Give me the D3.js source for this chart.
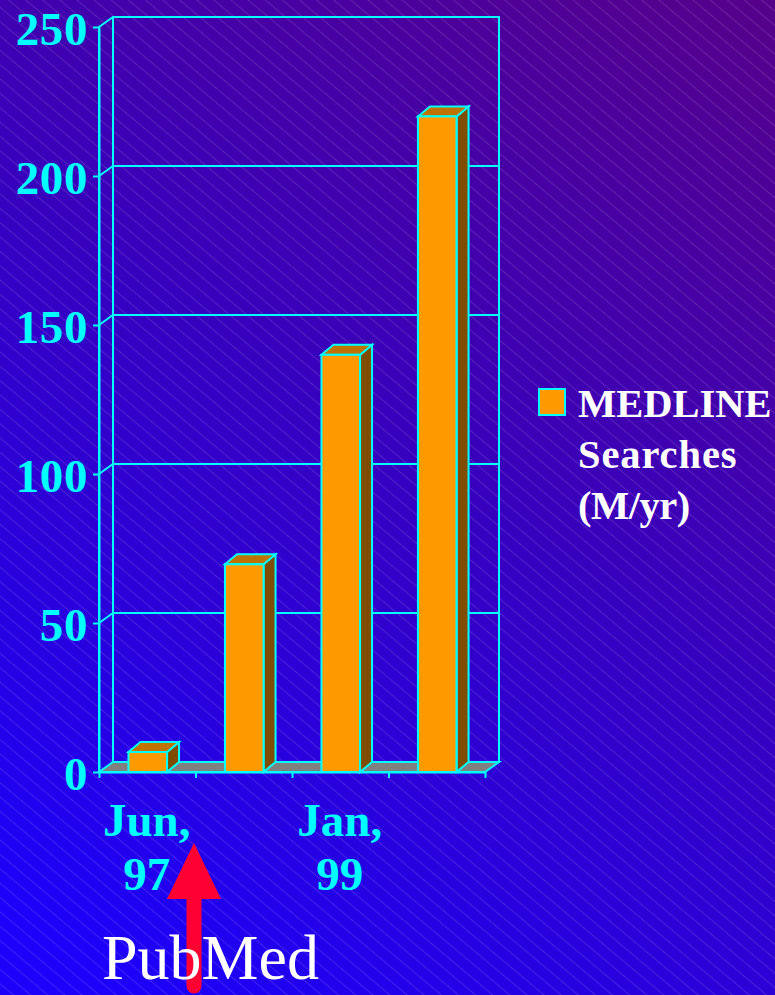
<!DOCTYPE html>
<html>
<head>
<meta charset="utf-8">
<script src="https://cdn.jsdelivr.net/npm/d3@7"></script>
<style>
  html, body { margin: 0; padding: 0; background: #2000f0; }
  svg { display: block; }
  text { font-family: "Liberation Serif", serif; }
  .tick-label { font-weight: bold; fill: #00ffff; }
  .legend-text { font-weight: bold; fill: #ffffff; font-size: 40.5px; }
</style>
</head>
<body>
<div id="chart"></div>
<script>
// Chart data (the 2nd and 4th bars have no label in the original)
const categoryLabels = [["Jun,", "97"], [], ["Jan,", "99"], []];
const searches = [6.7, 69.7, 140, 220];
const yTicks = [0, 50, 100, 150, 200, 250];
const legendLines = ["MEDLINE", "Searches", "(M/yr)"];

const width = 775, height = 995;
const cyan = "#00ffff", orange = "#ff9900", orangeTop = "#bf7300", orangeSide = "#7f4c00", floorGrey = "#808080";
const lineW = 2;

// 3D offset of the back wall
const depthX = 14, depthY = 10;
const barDepthX = 12, barDepthY = 10;

const svg = d3.select("#chart").append("svg")
    .attr("width", width)
    .attr("height", height);

const defs = svg.append("defs");

// Background gradient, blue at bottom left to purple at top right
const grad = defs.append("linearGradient")
    .attr("id", "bg")
    .attr("gradientUnits", "userSpaceOnUse")
    .attr("x1", 120).attr("y1", 995)
    .attr("x2", 775).attr("y2", 0);
grad.append("stop").attr("offset", "0%").attr("stop-color", "#1c00fa");
grad.append("stop").attr("offset", "50%").attr("stop-color", "#3600c0");
grad.append("stop").attr("offset", "100%").attr("stop-color", "#56008a");

// Thin diagonal hatch over the background
const hatch = defs.append("pattern")
    .attr("id", "hatch")
    .attr("patternUnits", "userSpaceOnUse")
    .attr("width", 11).attr("height", 11)
    .attr("patternTransform", "rotate(40)");
hatch.append("line")
    .attr("x1", 0).attr("y1", 5.5).attr("x2", 11).attr("y2", 5.5)
    .attr("stroke", "#ffffff")
    .attr("stroke-opacity", 0.14)
    .attr("stroke-width", 1);

svg.append("rect").attr("width", width).attr("height", height).attr("fill", "url(#bg)");
svg.append("rect").attr("width", width).attr("height", height).attr("fill", "url(#hatch)");

// Scales
const xScale = d3.scaleBand()
    .domain(d3.range(searches.length))
    .range([99.5, 485.5])
    .paddingInner(0.6)
    .paddingOuter(0.3);

const yScale = d3.scaleLinear()
    .domain([0, 250])
    .range([772, 27]);

const plotLeft = 99, plotRight = 485;
const plotBase = yScale(0), plotTop = yScale(250);

// Floor
svg.append("polygon")
    .attr("points", [[plotLeft, plotBase], [plotRight, plotBase], [plotRight + depthX, plotBase - depthY], [plotLeft + depthX, plotBase - depthY]].join(" "))
    .attr("fill", floorGrey)
    .attr("stroke", cyan)
    .attr("stroke-width", lineW);

// Back wall and side wall
svg.append("rect")
    .attr("x", plotLeft + depthX).attr("y", plotTop - depthY)
    .attr("width", plotRight - plotLeft).attr("height", plotBase - plotTop)
    .attr("fill", "none")
    .attr("stroke", cyan)
    .attr("stroke-width", lineW);

svg.append("polyline")
    .attr("points", [[plotLeft, plotBase], [plotLeft, plotTop], [plotLeft + depthX, plotTop - depthY]].join(" "))
    .attr("fill", "none")
    .attr("stroke", cyan)
    .attr("stroke-width", lineW);

// Gridlines on both walls
svg.selectAll(".grid")
    .data(yTicks.filter(d => d > 0 && d < 250))
    .join("polyline")
    .attr("class", "grid")
    .attr("points", d => [[plotLeft, yScale(d)], [plotLeft + depthX, yScale(d) - depthY], [plotRight + depthX, yScale(d) - depthY]].join(" "))
    .attr("fill", "none")
    .attr("stroke", cyan)
    .attr("stroke-width", lineW);

// Y axis
const yAxis = svg.append("g")
    .attr("transform", `translate(${plotLeft}, 0)`)
    .call(d3.axisLeft(yScale).tickValues(yTicks).tickSize(6).tickPadding(5).tickSizeOuter(0));
yAxis.select(".domain").attr("stroke", cyan).attr("stroke-width", lineW);
yAxis.selectAll("line").attr("stroke", cyan).attr("stroke-width", lineW);
yAxis.selectAll("text")
    .attr("class", "tick-label")
    .attr("font-family", null)
    .style("font-size", "47px")
    .style("letter-spacing", "0.6px")
    .attr("dy", "0.37em");

// X axis with ticks on the band edges
const xEdges = d3.scaleLinear().domain([0, searches.length]).range([plotLeft, plotRight]);
const xAxis = svg.append("g")
    .attr("transform", `translate(0, ${plotBase})`)
    .call(d3.axisBottom(xEdges).tickValues(d3.range(searches.length + 1)).tickSize(6).tickSizeOuter(0).tickFormat(""));
xAxis.select(".domain").attr("stroke", cyan).attr("stroke-width", lineW);
xAxis.selectAll("line").attr("stroke", cyan).attr("stroke-width", lineW);

// X labels
svg.selectAll(".x-label")
    .data(categoryLabels)
    .join("text")
    .attr("class", "x-label tick-label")
    .attr("text-anchor", "middle")
    .style("font-size", "47px")
    .each(function(lines, i) {
        d3.select(this).selectAll("tspan")
            .data(lines)
            .join("tspan")
            .attr("x", xScale(i) + xScale.bandwidth() / 2 - 1)
            .attr("y", (t, j) => 836 + j * 54)
            .text(t => t);
    });

// Bars
const bars = svg.selectAll(".bar")
    .data(searches)
    .join("g")
    .attr("class", "bar")
    .attr("stroke", cyan)
    .attr("stroke-width", lineW);

bars.append("polygon")
    .attr("points", (d, i) => {
        const x1 = xScale(i) + xScale.bandwidth();
        return [[x1, yScale(d)], [x1 + barDepthX, yScale(d) - barDepthY], [x1 + barDepthX, plotBase - barDepthY], [x1, plotBase]].join(" ");
    })
    .attr("fill", orangeSide);

bars.append("polygon")
    .attr("points", (d, i) => {
        const x0 = xScale(i), x1 = x0 + xScale.bandwidth(), y = yScale(d);
        return [[x0, y], [x0 + barDepthX, y - barDepthY], [x1 + barDepthX, y - barDepthY], [x1, y]].join(" ");
    })
    .attr("fill", orangeTop);

bars.append("rect")
    .attr("x", (d, i) => xScale(i))
    .attr("y", d => yScale(d))
    .attr("width", xScale.bandwidth())
    .attr("height", d => plotBase - yScale(d))
    .attr("fill", orange);

// Legend
svg.append("rect")
    .attr("x", 539).attr("y", 389)
    .attr("width", 26).attr("height", 26)
    .attr("fill", orange)
    .attr("stroke", cyan)
    .attr("stroke-width", 2);

svg.selectAll(".legend-text")
    .data(legendLines)
    .join("text")
    .attr("class", "legend-text")
    .attr("x", 578)
    .attr("y", (d, i) => 417 + i * 51)
    .style("letter-spacing", (d, i) => ["0px", "0.9px", "-0.5px"][i])
    .text(d => d);

// PubMed arrow
svg.append("line")
    .attr("x1", 194).attr("y1", 895)
    .attr("x2", 194).attr("y2", 986)
    .attr("stroke", "#ff0033")
    .attr("stroke-width", 15)
    .attr("stroke-linecap", "round");
svg.append("polygon")
    .attr("points", "194,843 221,899 167,899")
    .attr("fill", "#ff0033");

svg.append("text")
    .attr("x", 102)
    .attr("y", 979)
    .attr("fill", "#ffffff")
    .style("font-size", "64px")
    .text("PubMed");
</script>
</body>
</html>
